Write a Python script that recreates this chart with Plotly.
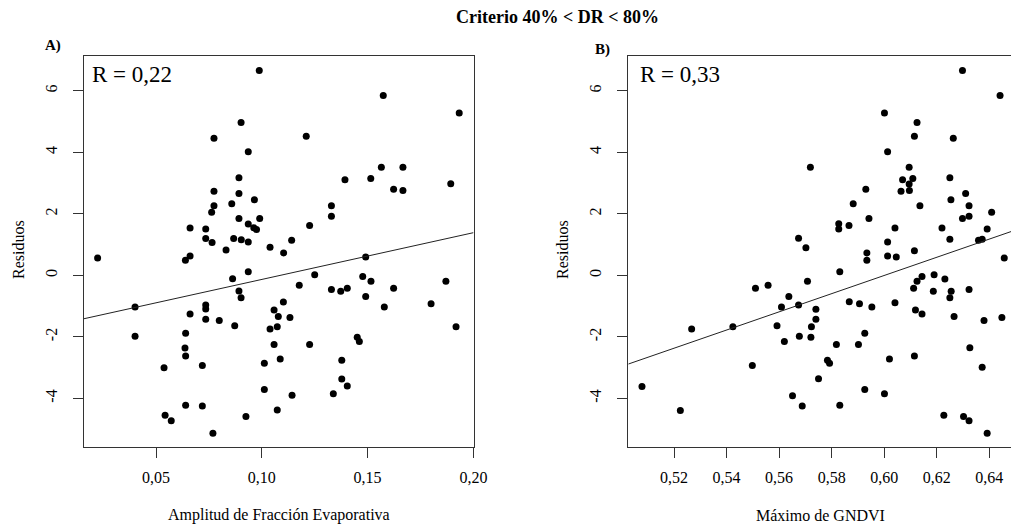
import plotly.graph_objects as go

# ---------------- data ----------------
title_text = "Criterio 40% < DR < 80%"
panel_labels = ["A)", "B)"]
r_labels = ["R = 0,22", "R = 0,33"]
x_titles = ["Amplitud de Fracción Evaporativa", "Máximo de GNDVI"]
y_title = "Residuos"

# Panel A: Amplitud de Fracción Evaporativa vs residuos
xa = [0.0988, 0.0902, 0.0774, 0.0936, 0.0892, 0.0774, 0.0892, 0.0858, 0.0965, 0.0774,
      0.0763, 0.0892, 0.0936, 0.0990, 0.0962, 0.0975, 0.0661, 0.0735, 0.0735, 0.0765,
      0.0867, 0.0903, 0.0936, 0.1039, 0.0831, 0.1574, 0.1933, 0.1210, 0.1565, 0.1667,
      0.1393, 0.1515, 0.1623, 0.1667, 0.1893, 0.1329, 0.1329, 0.1226, 0.1141, 0.0224,
      0.0639, 0.0661, 0.1103, 0.0936, 0.0862, 0.0892, 0.0902, 0.0401, 0.0735, 0.0735,
      0.0661, 0.0735, 0.0799, 0.0872, 0.1102, 0.1058, 0.1078, 0.1133, 0.1039, 0.1073,
      0.1058, 0.1087, 0.1012, 0.1012, 0.1073, 0.0401, 0.0640, 0.0637, 0.0640, 0.0538,
      0.0719, 0.0640, 0.0719, 0.0543, 0.0572, 0.0769, 0.0925, 0.1491, 0.1250, 0.1177,
      0.1329, 0.1373, 0.1404, 0.1477, 0.1516, 0.1491, 0.1623, 0.1579, 0.1870, 0.1800,
      0.1918, 0.1226, 0.1451, 0.1461, 0.1378, 0.1378, 0.1404, 0.1338, 0.1143]
ya = [6.66, 4.97, 4.46, 4.02, 3.17, 2.73, 2.66, 2.33, 2.46, 2.26,
      2.05, 1.85, 1.67, 1.85, 1.55, 1.49, 1.54, 1.51, 1.20, 1.07,
      1.20, 1.16, 1.08, 0.91, 0.82, 5.85, 5.28, 4.52, 3.51, 3.51,
      3.11, 3.15, 2.80, 2.76, 2.98, 2.26, 1.92, 1.62, 1.14, 0.56,
      0.49, 0.63, 0.73, 0.12, -0.11, -0.51, -0.73, -1.03, -0.96, -1.09,
      -1.26, -1.43, -1.47, -1.64, -0.87, -1.13, -1.34, -1.37, -1.74, -1.67,
      -2.25, -2.72, -2.86, -3.71, -4.38, -1.98, -1.88, -2.36, -2.62, -3.00,
      -2.93, -4.22, -4.25, -4.55, -4.73, -5.13, -4.59, 0.60, 0.02, -0.32,
      -0.46, -0.52, -0.42, -0.04, -0.19, -0.69, -0.42, -1.03, -0.19, -0.92,
      -1.67, -2.25, -2.01, -2.15, -2.76, -3.37, -3.60, -3.85, -3.90]

# Panel B: Máximo de GNDVI vs residuos
xb = [0.5719, 0.5674, 0.5702, 0.6298, 0.6441, 0.6001, 0.6125, 0.6115, 0.6263, 0.6013,
      0.6095, 0.6070, 0.6109, 0.6095, 0.6064, 0.6096, 0.6250, 0.5930, 0.5882, 0.6136,
      0.6254, 0.6310, 0.6323, 0.6409, 0.6298, 0.6323, 0.5942, 0.5827, 0.5827, 0.5866,
      0.6041, 0.6220, 0.6392, 0.6013, 0.6250, 0.6359, 0.6373, 0.5510, 0.5558, 0.5708,
      0.5637, 0.5609, 0.5674, 0.5740, 0.5740, 0.5592, 0.5723, 0.5677, 0.5721, 0.5620,
      0.5267, 0.5424, 0.5498, 0.5750, 0.5651, 0.5688, 0.5078, 0.5224, 0.5934, 0.5934,
      0.6013, 0.6046, 0.6115, 0.6457, 0.5831, 0.6144, 0.6125, 0.6112, 0.6190, 0.6231,
      0.6187, 0.6255, 0.6250, 0.6323, 0.5867, 0.5906, 0.5953, 0.6041, 0.6119, 0.6144,
      0.6266, 0.6380, 0.6448, 0.5926, 0.5818, 0.5902, 0.5784, 0.5792, 0.6020, 0.6115,
      0.6326, 0.6373, 0.5926, 0.6001, 0.5831, 0.6227, 0.6302, 0.6323, 0.6392]
yb = [3.51, 1.21, 0.90, 6.66, 5.85, 5.28, 4.97, 4.52, 4.46, 4.02,
      3.51, 3.11, 3.15, 2.97, 2.73, 2.76, 3.17, 2.80, 2.33, 2.26,
      2.46, 2.66, 2.26, 2.05, 1.85, 1.92, 1.85, 1.68, 1.51, 1.62,
      1.54, 1.54, 1.51, 1.08, 1.17, 1.14, 1.17, -0.42, -0.32, -0.19,
      -0.69, -1.03, -0.96, -1.10, -1.43, -1.64, -1.67, -1.98, -2.01, -2.15,
      -1.74, -1.67, -2.93, -3.36, -3.91, -4.25, -3.61, -4.39, 0.73, 0.49,
      0.63, 0.60, 0.80, 0.56, 0.12, -0.04, -0.19, -0.42, 0.02, -0.12,
      -0.52, -0.52, -0.73, -0.46, -0.86, -0.92, -1.03, -0.89, -1.13, -1.26,
      -1.34, -1.47, -1.37, -1.88, -2.25, -2.25, -2.76, -2.86, -2.72, -2.62,
      -2.35, -2.99, -3.71, -3.85, -4.22, -4.55, -4.59, -4.73, -5.13]

# fitted lines (intercept, slope)
fit_a = (-1.653, 15.2)
fit_b = (-17.74, 29.56)

xa_ticks = [0.05, 0.10, 0.15, 0.20]
xa_ticktext = ["0,05", "0,10", "0,15", "0,20"]
xb_ticks = [0.52, 0.54, 0.56, 0.58, 0.60, 0.62, 0.64]
xb_ticktext = ["0,52", "0,54", "0,56", "0,58", "0,60", "0,62", "0,64"]
y_ticks = [-4, -2, 0, 2, 4, 6]
y_ticktext = ["-4", "-2", "0", "2", "4", "6"]

# ---------------- layout geometry ----------------
W, H = 1011, 527
SERIF = "Liberation Serif"
xa_range = [0.01597, 0.20005]
xb_range = [0.50259, 0.64827]
y_range = [-5.57, 7.14]
ydom = [1 - 446.7 / H, 1 - 55.7 / H]

fig = go.Figure()

fig.add_trace(go.Scatter(x=xa, y=ya, mode="markers", xaxis="x", yaxis="y",
                         marker=dict(color="black", size=7), showlegend=False))
fig.add_trace(go.Scatter(x=xa_range, y=[fit_a[0] + fit_a[1] * v for v in xa_range],
                         mode="lines", xaxis="x", yaxis="y",
                         line=dict(color="#222", width=1), showlegend=False))
fig.add_trace(go.Scatter(x=xb, y=yb, mode="markers", xaxis="x2", yaxis="y2",
                         marker=dict(color="black", size=7), showlegend=False))
fig.add_trace(go.Scatter(x=xb_range, y=[fit_b[0] + fit_b[1] * v for v in xb_range],
                         mode="lines", xaxis="x2", yaxis="y2",
                         line=dict(color="#222", width=1), showlegend=False))

axis_common = dict(showgrid=False, zeroline=False, showline=True, linecolor="#333",
                   linewidth=1, ticks="outside", ticklen=10, tickcolor="#333",
                   tickwidth=1, tickfont=dict(family=SERIF, size=16, color="black"),
                   fixedrange=True)

fig.update_layout(
    width=W, height=H,
    margin=dict(l=0, r=0, t=0, b=0, autoexpand=False),
    paper_bgcolor="white", plot_bgcolor="white",
    font=dict(family=SERIF, color="black"),
    showlegend=False,
    xaxis=dict(domain=[84 / W, 473.5 / W], range=xa_range, anchor="y", mirror=True,
               tickmode="array", tickvals=xa_ticks, ticktext=xa_ticktext,
               ticklabelstandoff=6, **axis_common),
    yaxis=dict(domain=ydom, range=y_range, anchor="x", mirror=True,
               tickmode="array", tickvals=y_ticks, ticktext=y_ticktext,
               tickangle=-90, ticklabelstandoff=10, **axis_common),
    xaxis2=dict(domain=[628.3 / W, 1.0], range=xb_range, anchor="y2", mirror=True,
                tickmode="array", tickvals=xb_ticks, ticktext=xb_ticktext,
                ticklabelstandoff=6, **axis_common),
    yaxis2=dict(domain=ydom, range=y_range, anchor="x2", mirror=False,
                tickmode="array", tickvals=y_ticks, ticktext=y_ticktext,
                tickangle=-90, ticklabelstandoff=10, **axis_common),
)

ann = []
ann.append(dict(text="<b>" + title_text + "</b>", x=557 / W, y=1 - 17 / H,
                font=dict(family=SERIF, size=18, color="black")))
ann.append(dict(text="<b>" + panel_labels[0] + "</b>", x=53 / W, y=1 - 45.5 / H,
                font=dict(family=SERIF, size=15, color="black")))
ann.append(dict(text="<b>" + panel_labels[1] + "</b>", x=602 / W, y=1 - 49 / H,
                font=dict(family=SERIF, size=15, color="black")))
ann.append(dict(text=r_labels[0], x=89.5 / W, y=1 - 74.5 / H, xanchor="left",
                font=dict(family=SERIF, size=23, color="black")))
ann.append(dict(text=r_labels[1], x=638 / W, y=1 - 74.5 / H, xanchor="left",
                font=dict(family=SERIF, size=23, color="black")))
ann.append(dict(text=x_titles[0], x=279 / W, y=1 - 515 / H,
                font=dict(family=SERIF, size=16, color="black")))
ann.append(dict(text=x_titles[1], x=820 / W, y=1 - 515 / H,
                font=dict(family=SERIF, size=16, color="black")))
ann.append(dict(text=y_title, x=18 / W, y=1 - 250 / H, textangle=-90,
                font=dict(family=SERIF, size=16, color="black")))
ann.append(dict(text=y_title, x=562 / W, y=1 - 250 / H, textangle=-90,
                font=dict(family=SERIF, size=16, color="black")))
for a in ann:
    a.setdefault("xanchor", "center")
    a.setdefault("yanchor", "middle")
    a.update(xref="paper", yref="paper", showarrow=False)
fig.update_layout(annotations=ann)

fig.write_html("out.html", config={"displayModeBar": False})
